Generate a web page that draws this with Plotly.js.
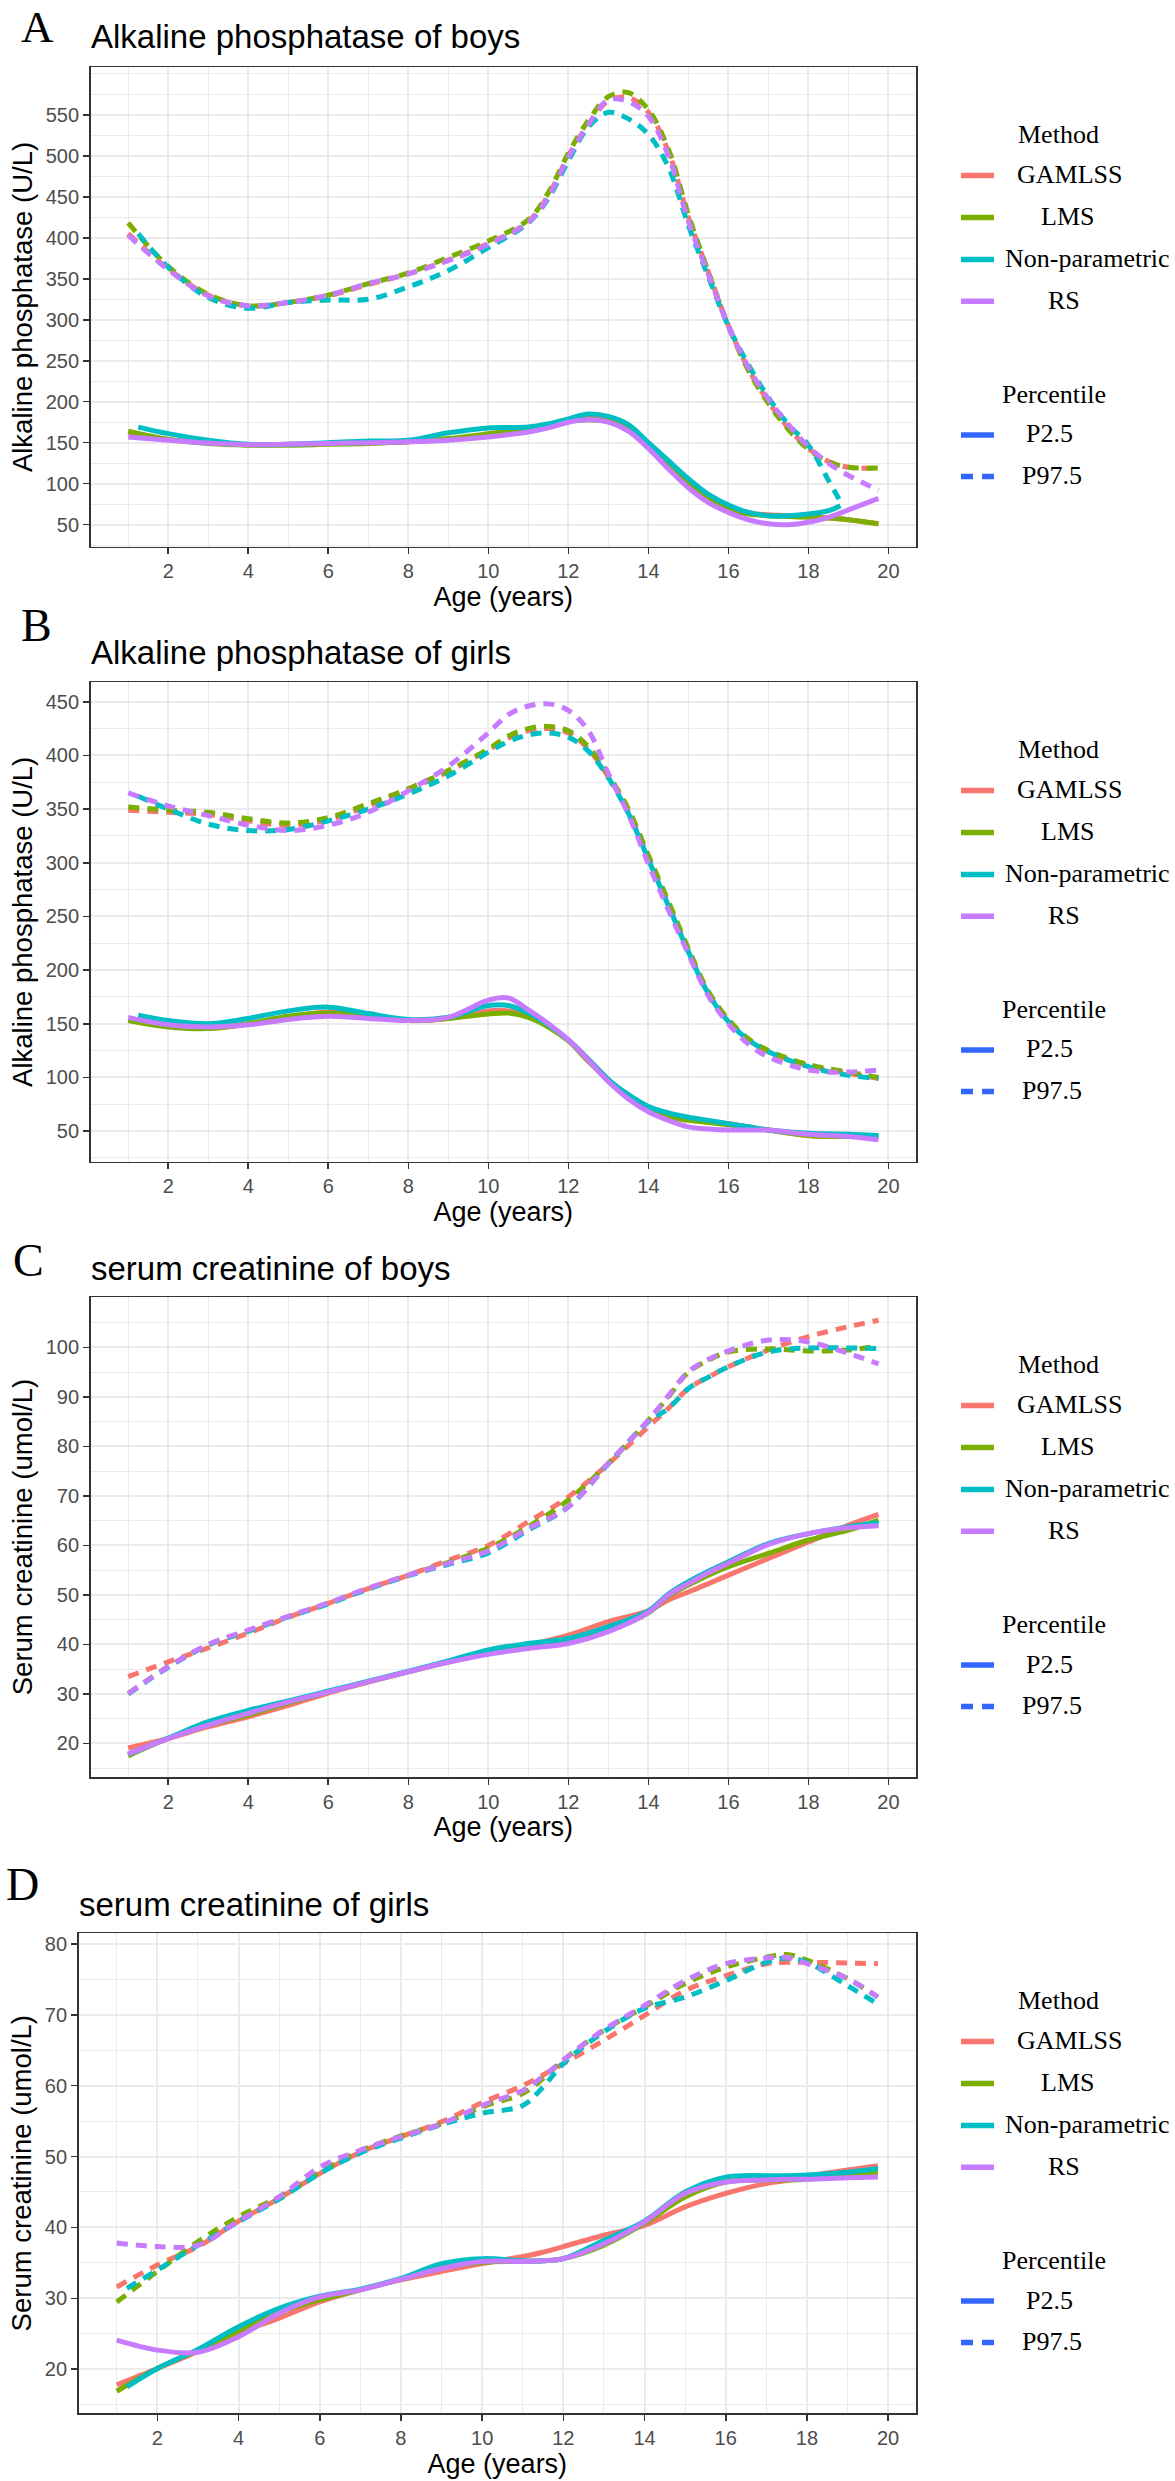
<!DOCTYPE html>
<html>
<head>
<meta charset="utf-8">
<script src="https://cdn.plot.ly/plotly-3.0.1.min.js"></script>
<style>
html, body { margin: 0; padding: 0; background: #ffffff; }
#chart { width: 1175px; height: 2481px; }
</style>
</head>
<body>
<div id="chart"></div>
<script>
// ---------------- DATA ----------------
const methods = ['GAMLSS', 'LMS', 'Non-parametric', 'RS'];
const methodColors = ['#F8766D', '#7CAE00', '#00BFC4', '#C77CFF'];
const percentiles = ['P2.5', 'P97.5'];
const panelLetters = ['A', 'B', 'C', 'D'];
const panelTitles = ['Alkaline phosphatase of boys', 'Alkaline phosphatase of girls',
                     'serum creatinine of boys', 'serum creatinine of girls'];
const yTitles = ['Alkaline phosphatase (U/L)', 'Alkaline phosphatase (U/L)',
                 'Serum creatinine (umol/L)', 'Serum creatinine (umol/L)'];
const xTitle = 'Age (years)';
const xTicks = [2, 4, 6, 8, 10, 12, 14, 16, 18, 20];

// Panel A: alkaline phosphatase, boys
const ageA = [1,2,3,4,5,6,7,8,9,10,11,11.5,12,12.5,13,13.5,14,14.5,15,15.5,16,16.5,17,17.5,18,18.5,19,19.75];
const ageA_np = [1.25,2,3,4,5,6,7,8,9,10,11,11.5,12,12.5,13,13.5,14,14.5,15,15.5,16,16.5,17,17.5,18,18.5,18.8];
const A_lo_GAMLSS = [163,154,150,147.5,148,149,150,151,154,159,166,170,176,180,178,168,145,122,100,83,70,64,62,61,60,58,56,51];
const A_lo_LMS    = [164,154,149,147,147,148,149,151,155,161,167,171,176,178,176,166,144,121,99,82,69,63,61,60,59,58,56,51];
const A_lo_NP     = [169,161,153,148,148,150,152,153,162,168,169,173,179,185,182,172,150,128,106,87,74,65,61,61,63,67,73];
const A_lo_RS     = [157,153,149.5,147.5,148,149,150,151,153,157,163,168,175,178,175,164,143,118,95,77,65,56,51,50,53,59,68,82];
const A_hi_GAMLSS = [405,362,330,317,321,329,343,356,373,393,420,452,500,538,567,571,553,505,425,358,293,240,200,168,143,127,120,119];
const A_hi_LMS    = [418,365,331,317,321,330,344,357,376,396,422,455,503,543,572,577,556,508,428,358,292,238,198,166,142,127,120,119];
const A_hi_NP     = [405,364,327,314,321,324,325,340,360,388,418,448,494,535,553,545,526,486,415,352,292,245,205,172,147,104,78];
const A_hi_RS     = [403,361,329,317,321,330,344,356,372,392,419,450,498,538,568,566,548,500,420,355,292,242,203,172,145,125,110,92];

// Panel B: alkaline phosphatase, girls
const ageB = [1,2,3,4,5,6,7,8,9,10,10.5,11,11.5,12,12.5,13,13.5,14,14.5,15,15.5,16,16.5,17,18,19,19.75];
const ageB_np = [1.25,2,3,4,5,6,7,8,9,10,10.5,11,11.5,12,12.5,13,13.5,14,14.5,15,15.5,16,16.5,17,18,19,19.75];
const B_lo_GAMLSS = [154,148,146,150,156,161,157,153,155,162,162,157,148,135,117,98,82,70,64,61,59,57,54,51,46,45,45];
const B_lo_LMS    = [153,147,145.5,150,157,160,157,153,155,159,160,156,147,134,115,97,81,69.5,63,60,58,56,53,51,46,45,45];
const B_lo_NP     = [158,153,150,155,162,165.5,159.5,154,156,167,167,160,149,135,117,98,84,73,67,63,60,57,54,51,48,47,46];
const B_lo_RS     = [156,149,147,149,154,157,155,153,156,172,174,163,150,135,116,96,80,68,60,54,52,51,51,51,47,45,42];
const B_hi_GAMLSS = [349,347,345,339,335,340,353,368,385,405,416,423,425,421,406,380,348,305,262,218,178,153,135,124,111,104,99];
const B_hi_LMS    = [352,349,347,341,337,342,355,369,386,406,418,425,427,423,408,382,350,307,264,220,180,154,136,125,112,105,100];
const B_hi_NP     = [362,350,336,330,331,339,350,364,381,403,413,419,421,417,404,379,346,303,260,217,178,152,135,124,110,102,99];
const B_hi_RS     = [365,353,344,335,330,335,347,367,390,421,438,446,448,442,423,383,345,299,256,215,176,150,131,119,107,105,107];

// Panel C: serum creatinine, boys
const ageC = [1,2,3,4,5,6,7,8,9,10,11,12,13,14,14.5,15,15.5,16,17,18,19,19.75];
const ageC_np = [1,2,3,4,5,6,7,8,9,10,11,12,13,14,14.5,15,15.5,16,17,18,19,19.75];
const C_lo_GAMLSS = [19.1,21.0,23.4,25.4,27.7,30.2,32.4,34.5,36.5,38.3,39.9,41.9,44.6,46.8,49,50.6,52.3,54.0,57.4,60.7,64.1,66.3];
const C_lo_LMS    = [17.5,21.0,23.7,25.8,28.2,30.4,32.5,34.5,36.5,38.4,39.6,40.9,42.9,46.4,49.8,52,54,55.7,58.4,61.1,63.1,65.1];
const C_lo_NP     = [17.8,21.1,24.4,26.7,28.6,30.6,32.6,34.6,36.7,38.9,40.2,41.2,43.6,46.8,50.2,52.7,54.8,56.7,60.4,62.4,63.8,64.6];
const C_lo_RS     = [17.9,21.0,23.7,26.1,28.4,30.4,32.5,34.5,36.4,38.0,39.2,40.2,42.6,46.5,50,52.3,54.5,56.4,60.2,62.4,63.6,64.0];
const C_hi_GAMLSS = [33.5,36.5,39.3,42.3,45.5,48.3,51.3,54.0,57.0,60.0,64.8,69.8,76.5,84,87.7,91.7,94,96.1,99.5,102.2,104.2,105.5];
const C_hi_LMS    = [30.1,35.5,39.9,42.7,45.6,48.3,51.3,54.0,56.6,59.5,63.8,69.2,76.6,85.3,90,95,97.4,99.1,99.7,99.3,99.5,100.3];
const C_hi_NP     = [30.0,35.4,39.9,42.7,45.6,48.2,51.2,53.9,56.2,58.5,63.1,67.8,76.5,85,87.7,91.7,94,96.1,99.1,99.9,99.9,99.8];
const C_hi_RS     = [30.1,35.5,40.0,42.9,45.7,48.4,51.4,54.0,56.4,58.9,63.4,67.8,76.6,85.3,90.3,95.1,97.6,99.3,101.5,101.1,98.8,96.7];

// Panel D: serum creatinine, girls
const ageD = [1,2,3,4,5,6,7,8,9,10,11,11.5,12,13,14,15,16,17,17.5,18,19,19.75];
const ageD_np = [1.25,2,3,4,5,6,7,8,9,10,11,11.5,12,13,14,15,16,17,17.5,18,19,19.75];
const D_lo_GAMLSS = [17.8,20.1,22.5,25.1,27.2,29.5,31.2,32.6,33.8,34.9,35.9,36.5,37.3,38.9,40.3,42.9,44.8,46.2,46.6,47.2,48.1,48.7];
const D_lo_LMS    = [16.9,20.1,22.7,25.3,28.0,29.8,31.2,32.7,34.3,35.1,35.2,35.3,35.6,37.5,40.6,44.3,46.4,46.7,46.7,46.8,47.5,47.8];
const D_lo_NP     = [17.5,20.1,22.8,26.0,28.6,30.3,31.3,32.8,34.9,35.6,35.3,35.3,35.6,38.2,40.9,45.0,47.1,47.3,47.3,47.4,47.8,48.3];
const D_lo_RS     = [24.1,22.7,22.4,24.6,27.9,30.2,31.2,32.7,34.2,35.2,35.2,35.3,35.6,37.7,40.8,44.8,46.4,46.7,46.8,46.8,47.0,47.1];
const D_hi_GAMLSS = [31.6,34.7,37.3,40.9,44.1,47.6,50.6,52.8,54.9,57.6,60.0,61.5,63.1,66.4,69.9,73.4,75.5,77.2,77.4,77.4,77.3,77.2];
const D_hi_LMS    = [29.5,33.8,38.0,41.5,44.3,47.8,50.8,52.9,54.6,57.0,58.9,61.0,63.6,67.8,71.1,74.4,76.7,78.1,78.5,77.7,75.1,72.5];
const D_hi_NP     = [31.4,34.0,37.5,40.8,44.0,47.6,50.5,52.6,54.5,56.1,57.2,59.8,63.1,67.6,70.9,72.5,74.8,77.4,78.0,77.4,74.1,71.5];
const D_hi_RS     = [37.8,37.3,37.5,40.9,44.3,48.5,50.9,52.8,54.6,57.2,59.3,61.3,63.6,67.9,71.3,74.8,77.2,78.0,78.1,77.2,75.1,72.5];

// y tick values of each panel
const yTicksA = [50,100,150,200,250,300,350,400,450,500,550];
const yTicksB = [50,100,150,200,250,300,350,400,450];
const yTicksC = [20,30,40,50,60,70,80,90,100];
const yTicksD = [20,30,40,50,60,70,80];

// ---------------- LAYOUT / STYLE ----------------
const W = 1175, H = 2481;
const px = v => v / W;
const py = v => 1 - v / H;
const SANS = 'Liberation Sans, Arial, Helvetica, sans-serif';
const SERIF = 'Liberation Serif, Times New Roman, serif';
const GRID = '#EBEBEB';
const FRAME = '#333333';
const PCT_BLUE = '#3366FF';
const DASH = '11px,8px';
const LINE_W = 5;

function midpoints(ticks, lo, hi) {
  const step = ticks[1] - ticks[0];
  const ext = [ticks[0] - step].concat(ticks, [ticks[ticks.length - 1] + step]);
  const out = [];
  for (let i = 0; i < ext.length; i++) {
    if (i > 0) out.push((ext[i - 1] + ext[i]) / 2);
    if (i === 0 || i === ext.length - 1) out.push(ext[i]);
  }
  return out.filter(v => v >= lo && v <= hi && ticks.indexOf(v) < 0);
}

const panels = [
  { age: ageA, ageNP: ageA_np, lo: [A_lo_GAMLSS, A_lo_LMS, A_lo_NP, A_lo_RS], hi: [A_hi_GAMLSS, A_hi_LMS, A_hi_NP, A_hi_RS],
    yticks: yTicksA, yrange: [23, 608], box: { l: 90.7, r: 916, t: 67.2, b: 546.8 },
    letterPos: [19, null], titlePos: [89, 36.6] },
  { age: ageB, ageNP: ageB_np, lo: [B_lo_GAMLSS, B_lo_LMS, B_lo_NP, B_lo_RS], hi: [B_hi_GAMLSS, B_hi_LMS, B_hi_NP, B_hi_RS],
    yticks: yTicksB, yrange: [21.7, 468.2], box: { l: 90.7, r: 916, t: 682.2, b: 1161.5 },
    letterPos: [19, 625], titlePos: [89, 652] },
  { age: ageC, ageNP: ageC_np, lo: [C_lo_GAMLSS, C_lo_LMS, C_lo_NP, C_lo_RS], hi: [C_hi_GAMLSS, C_hi_LMS, C_hi_NP, C_hi_RS],
    yticks: yTicksC, yrange: [13.25, 110.15], box: { l: 90.7, r: 916, t: 1297.2, b: 1776.9 },
    letterPos: [11, 1260.5], titlePos: [89, 1268] },
  { age: ageD, ageNP: ageD_np, lo: [D_lo_GAMLSS, D_lo_LMS, D_lo_NP, D_lo_RS], hi: [D_hi_GAMLSS, D_hi_LMS, D_hi_NP, D_hi_RS],
    yticks: yTicksD, yrange: [13.8, 81.5], box: { l: 78.7, r: 916, t: 1933.2, b: 2413.2 },
    letterPos: [4, 1884], titlePos: [77, 1904] }
];

const xRange = [0.0625, 20.6875];
const xMinor = midpoints(xTicks, xRange[0], xRange[1]);

const traces = [];
const layout = {
  width: W, height: H,
  margin: { l: 0, r: 0, t: 0, b: 0 },
  paper_bgcolor: '#ffffff', plot_bgcolor: '#ffffff',
  showlegend: false,
  font: { family: SANS, color: '#000000' },
  annotations: [], shapes: []
};

const drawOrder = [0, 1, 2, 3];
panels.forEach((p, i) => {
  const sfx = i === 0 ? '' : String(i + 1);
  drawOrder.forEach(m => {
    const x = m === 2 ? p.ageNP : p.age;
    traces.push({
      type: 'scatter', mode: 'lines', x: x, y: p.hi[m], xaxis: 'x' + sfx, yaxis: 'y' + sfx,
      name: methods[m] + ' ' + percentiles[1], hoverinfo: 'skip',
      line: { color: methodColors[m], width: LINE_W, dash: DASH, shape: 'spline', smoothing: 1 }
    });
    traces.push({
      type: 'scatter', mode: 'lines', x: x, y: p.lo[m], xaxis: 'x' + sfx, yaxis: 'y' + sfx,
      name: methods[m] + ' ' + percentiles[0], hoverinfo: 'skip',
      line: { color: methodColors[m], width: LINE_W, dash: 'solid', shape: 'spline', smoothing: 1 }
    });
  });

  const common = {
    showgrid: true, gridcolor: GRID, gridwidth: 2, zeroline: false,
    showline: true, mirror: true, linecolor: FRAME, linewidth: 1.6,
    ticks: 'outside', ticklen: 6, tickwidth: 1.6, tickcolor: FRAME,
    tickfont: { family: SANS, size: 20, color: '#4D4D4D' },
    fixedrange: true
  };
  layout['xaxis' + sfx] = Object.assign({}, common, {
    domain: [px(p.box.l), px(p.box.r)], anchor: 'y' + sfx, range: xRange,
    tickmode: 'array', tickvals: xTicks,
    minor: { tickmode: 'array', tickvals: xMinor, showgrid: true, gridcolor: GRID, gridwidth: 1, ticks: '' },
    title: { text: xTitle, font: { family: SANS, size: 27, color: '#000000' }, standoff: 4 }
  });
  const yMinor = midpoints(p.yticks, p.yrange[0], p.yrange[1]);
  layout['yaxis' + sfx] = Object.assign({}, common, {
    domain: [py(p.box.b), py(p.box.t)], anchor: 'x' + sfx, range: p.yrange,
    tickmode: 'array', tickvals: p.yticks,
    minor: { tickmode: 'array', tickvals: yMinor, showgrid: true, gridcolor: GRID, gridwidth: 1, ticks: '' },
    title: { text: yTitles[i], font: { family: SANS, size: 27.5, color: '#000000' }, standoff: 5 }
  });

  // panel letter and title
  if (p.letterPos[1] === null) {
    layout.annotations.push({
      xref: 'paper', yref: 'paper', x: px(p.letterPos[0]), y: 1,
      xanchor: 'left', yanchor: 'top', showarrow: false, text: panelLetters[i],
      font: { family: SERIF, size: 45, color: '#000000' }
    });
  } else {
    layout.annotations.push({
      xref: 'paper', yref: 'paper', x: px(p.letterPos[0]), y: py(p.letterPos[1]),
      xanchor: 'left', yanchor: 'middle', showarrow: false, text: panelLetters[i],
      font: { family: SERIF, size: 46, color: '#000000' }
    });
  }
  layout.annotations.push({
    xref: 'paper', yref: 'paper', x: px(p.titlePos[0]), y: py(p.titlePos[1]),
    xanchor: 'left', yanchor: 'middle', showarrow: false, text: panelTitles[i],
    font: { family: SANS, size: 33, color: '#000000' }
  });

  // legends (Method + Percentile), drawn beside each panel
  const t = p.box.t;
  const legFont = { family: SERIF, size: 26, color: '#000000' };
  const keyX0 = px(961), keyX1 = px(994);
  layout.annotations.push({ xref: 'paper', yref: 'paper', x: px(1016), y: py(t + 67.3),
    xanchor: 'left', yanchor: 'middle', showarrow: false, text: 'Method', font: legFont });
  const methodKeyOff = [108.4, 150.3, 192.2, 234.1];
  const methodLabelX = [1015, 1039, 1003, 1046];
  methods.forEach((name, j) => {
    layout.shapes.push({ type: 'line', xref: 'paper', yref: 'paper', x0: keyX0, x1: keyX1,
      y0: py(t + methodKeyOff[j]), y1: py(t + methodKeyOff[j]),
      line: { color: methodColors[j], width: 5.5 } });
    layout.annotations.push({ xref: 'paper', yref: 'paper', x: px(methodLabelX[j]), y: py(t + methodKeyOff[j] - 1),
      xanchor: 'left', yanchor: 'middle', showarrow: false, text: name, font: legFont });
  });
  layout.annotations.push({ xref: 'paper', yref: 'paper', x: px(1000), y: py(t + 327.4),
    xanchor: 'left', yanchor: 'middle', showarrow: false, text: 'Percentile', font: legFont });
  const pctKeyOff = [367.8, 409.3];
  const pctLabelX = [1024, 1020];
  const pctDash = ['solid', '12px,9px'];
  percentiles.forEach((name, j) => {
    layout.shapes.push({ type: 'line', xref: 'paper', yref: 'paper', x0: keyX0, x1: keyX1,
      y0: py(t + pctKeyOff[j]), y1: py(t + pctKeyOff[j]),
      line: { color: PCT_BLUE, width: 5.5, dash: pctDash[j] } });
    layout.annotations.push({ xref: 'paper', yref: 'paper', x: px(pctLabelX[j]), y: py(t + pctKeyOff[j] - 1),
      xanchor: 'left', yanchor: 'middle', showarrow: false, text: name, font: legFont });
  });
});

Plotly.newPlot('chart', traces, layout, { displayModeBar: false, staticPlot: true });
</script>
</body>
</html>
